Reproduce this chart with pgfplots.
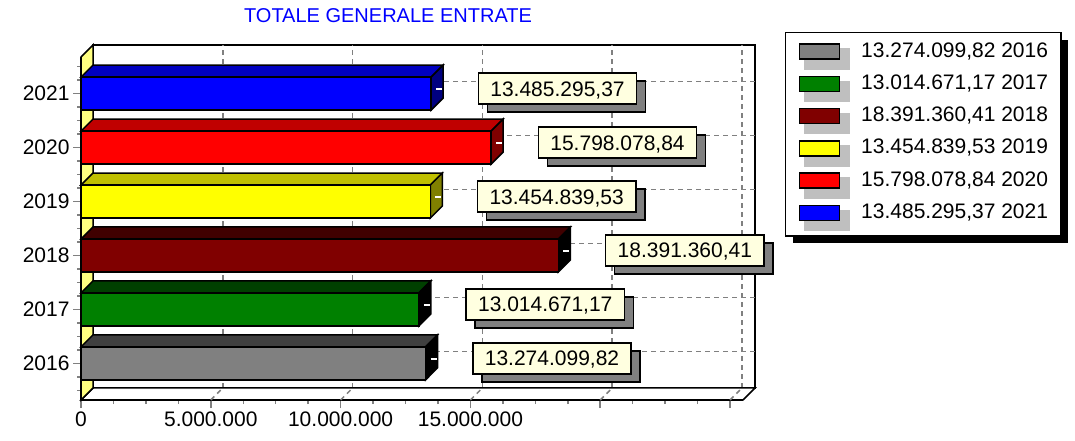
\documentclass[border=0pt]{standalone}
\usepackage{pgfplots}
\pgfplotsset{compat=1.18}
\usepackage{fontspec}
\setmainfont{Liberation Sans}
\usetikzlibrary{shadows}

\definecolor{wallyel}{HTML}{FFFF80}
\definecolor{lblyel}{HTML}{FFFFE0}
\definecolor{gridgray}{HTML}{808080}
\definecolor{fGray}{HTML}{808080}\definecolor{tGray}{HTML}{404040}
\definecolor{fGreen}{HTML}{008000}\definecolor{tGreen}{HTML}{004000}
\definecolor{fMaroon}{HTML}{800000}\definecolor{tMaroon}{HTML}{400000}
\definecolor{fYellow}{HTML}{FFFF00}\definecolor{tYellow}{HTML}{C0C000}\definecolor{sYellow}{HTML}{808000}
\definecolor{fRed}{HTML}{FF0000}\definecolor{tRed}{HTML}{C00000}\definecolor{sRed}{HTML}{800000}
\definecolor{fBlue}{HTML}{0000FF}\definecolor{tBlue}{HTML}{0000C0}\definecolor{sBlue}{HTML}{000080}

\newcommand{\bigfont}{\fontsize{21}{25}\selectfont}

% short white stroke on the side face of each bar
\pgfdeclareplotmark{stub}{%
  \pgfpathmoveto{\pgfpoint{5pt}{4.5pt}}%
  \pgfpathlineto{\pgfpoint{11pt}{4.5pt}}%
  \pgfusepathqstroke}

\makeatletter
\tikzset{nopre/.code={\let\tikz@preactions\pgfutil@empty}}
\makeatother

\tikzset{griddash/.style={gridgray, line width=1.5pt, dash pattern=on 5pt off 4pt}}
\pgfplotsset{
  front/.style={fill=#1, draw=black, line width=1.5pt,
    mark=stub, mark options={white, solid, line width=1.5pt},
    nodes near coords, point meta=explicit symbolic,
    every node near coord/.append style={
      anchor=west, xshift=46.5pt, yshift=5pt,
      draw=black, line width=1.5pt, fill=lblyel, text=black, font=\bigfont,
      text height=15pt, text depth=0pt, inner xsep=12pt, inner ysep=8pt,
      drop shadow={shadow xshift=9pt, shadow yshift=-8pt, fill=black!50, opacity=1}}},
  face/.style={sharp plot, draw=black, line width=1.5pt, fill=#1, forget plot, mark=none},
}

\begin{document}
\begin{tikzpicture}[x=1pt,y=1pt]
\useasboundingbox (0,0) rectangle (1075,441);
\begin{axis}[
  at={(81pt,41pt)}, anchor=south west,
  scale only axis, width=662pt, height=343pt,
  xmin=0, xmax=25.5e6, ymin=-0.68, ymax=5.68,
  clip=false,
  axis lines*=left,
  axis line style={black, line width=1.5pt},
  tick align=outside,
  xtick={0,5e6,10e6,15e6,20e6,25e6},
  xticklabels={0,5.000.000,10.000.000,15.000.000,{},{}},
  scaled x ticks=false,
  minor x tick num=3,
  ytick={0,1,2,3,4,5},
  yticklabels={2016,2017,2018,2019,2020,2021},
  minor ytick={-0.5,-0.25,0.25,0.5,0.75,1.25,1.5,1.75,2.25,2.5,2.75,3.25,3.5,3.75,4.25,4.5,4.75,5.25,5.5},
  major tick length=8pt, minor tick length=4pt,
  tick style={gridgray, line width=1.5pt},
  ticklabel style={font=\bigfont},
  xbar, bar width=0.612, bar shift=0pt,
  legend image code/.code={
    \fill[nopre,black!25] (5pt,-17.5pt) rectangle (50pt,2.5pt);
    \draw[nopre,#1,line width=1.5pt] (0pt,-7.5pt) rectangle (40pt,7.5pt);},
  legend cell align=left,
  legend style={at={(1.0634,1.0729)}, anchor=north west,
    draw=black, line width=1.5pt, fill=white,
    drop shadow={shadow xshift=7pt, shadow yshift=-7pt, fill=black, opacity=1},
    font=\bigfont, inner xsep=13pt, inner ysep=5pt, row sep=0pt,
    nodes={text height=15pt, text depth=4pt, inner ysep=4.5pt, inner xsep=0pt},
    /tikz/every odd column/.append style={column sep=11pt}},
]
% back wall
\draw[line width=1.5pt, fill=white] ([shift={(12pt,12pt)}]rel axis cs:0,0) rectangle ([shift={(12pt,12pt)}]rel axis cs:1,1);
\draw[griddash] ([shift={(12pt,12pt)}]axis cs:5e6,-0.68) -- ([shift={(12pt,12pt)}]axis cs:5e6,5.68);
\draw[griddash] ([shift={(12pt,12pt)}]axis cs:10e6,-0.68) -- ([shift={(12pt,12pt)}]axis cs:10e6,5.68);
\draw[griddash] ([shift={(12pt,12pt)}]axis cs:15e6,-0.68) -- ([shift={(12pt,12pt)}]axis cs:15e6,5.68);
\draw[griddash] ([shift={(12pt,12pt)}]axis cs:20e6,-0.68) -- ([shift={(12pt,12pt)}]axis cs:20e6,5.68);
\draw[griddash] ([shift={(12pt,12pt)}]axis cs:25e6,-0.68) -- ([shift={(12pt,12pt)}]axis cs:25e6,5.68);
\draw[griddash] ([shift={(12pt,12pt)}]axis cs:0,0) -- ([shift={(12pt,12pt)}]axis cs:25.5e6,0);
\draw[griddash] ([shift={(12pt,12pt)}]axis cs:0,1) -- ([shift={(12pt,12pt)}]axis cs:25.5e6,1);
\draw[griddash] ([shift={(12pt,12pt)}]axis cs:0,2) -- ([shift={(12pt,12pt)}]axis cs:25.5e6,2);
\draw[griddash] ([shift={(12pt,12pt)}]axis cs:0,3) -- ([shift={(12pt,12pt)}]axis cs:25.5e6,3);
\draw[griddash] ([shift={(12pt,12pt)}]axis cs:0,4) -- ([shift={(12pt,12pt)}]axis cs:25.5e6,4);
\draw[griddash] ([shift={(12pt,12pt)}]axis cs:0,5) -- ([shift={(12pt,12pt)}]axis cs:25.5e6,5);
% floor
\draw[line width=1.5pt, fill=white] (rel axis cs:0,0) -- (rel axis cs:1,0) -- ++(12pt,12pt) -- ([shift={(12pt,12pt)}]rel axis cs:0,0) -- cycle;
\draw[griddash] (axis cs:5e6,-0.68) -- ++(12pt,12pt);
\draw[griddash] (axis cs:10e6,-0.68) -- ++(12pt,12pt);
\draw[griddash] (axis cs:15e6,-0.68) -- ++(12pt,12pt);
\draw[griddash] (axis cs:20e6,-0.68) -- ++(12pt,12pt);
\draw[griddash] (axis cs:25e6,-0.68) -- ++(12pt,12pt);
% left wall
\draw[line width=1.5pt, fill=wallyel] (rel axis cs:0,0) -- ([shift={(12pt,12pt)}]rel axis cs:0,0) -- ([shift={(12pt,12pt)}]rel axis cs:0,1) -- (rel axis cs:0,1) -- cycle;

% 2016
\addplot[face=tGray] coordinates {(0,0.306) (13274099.82,0.306) (13736335.82,0.5286) (462236,0.5286)} -- cycle;
\addplot[face=black] coordinates {(13274099.82,-0.306) (13736335.82,-0.0834) (13736335.82,0.5286) (13274099.82,0.306)} -- cycle;
\addplot[front=fGray] coordinates {(13274099.82,0) [13.274.099,82]};
\addlegendentry{13.274.099,82 2016}
% 2017
\addplot[face=tGreen] coordinates {(0,1.306) (13014671.17,1.306) (13476907.17,1.5286) (462236,1.5286)} -- cycle;
\addplot[face=black] coordinates {(13014671.17,0.694) (13476907.17,0.9166) (13476907.17,1.5286) (13014671.17,1.306)} -- cycle;
\addplot[front=fGreen] coordinates {(13014671.17,1) [13.014.671,17]};
\addlegendentry{13.014.671,17 2017}
% 2018
\addplot[face=tMaroon] coordinates {(0,2.306) (18391360.41,2.306) (18853596.41,2.5286) (462236,2.5286)} -- cycle;
\addplot[face=black] coordinates {(18391360.41,1.694) (18853596.41,1.9166) (18853596.41,2.5286) (18391360.41,2.306)} -- cycle;
\addplot[front=fMaroon] coordinates {(18391360.41,2) [18.391.360,41]};
\addlegendentry{18.391.360,41 2018}
% 2019
\addplot[face=tYellow] coordinates {(0,3.306) (13454839.53,3.306) (13917075.53,3.5286) (462236,3.5286)} -- cycle;
\addplot[face=sYellow] coordinates {(13454839.53,2.694) (13917075.53,2.9166) (13917075.53,3.5286) (13454839.53,3.306)} -- cycle;
\addplot[front=fYellow] coordinates {(13454839.53,3) [13.454.839,53]};
\addlegendentry{13.454.839,53 2019}
% 2020
\addplot[face=tRed] coordinates {(0,4.306) (15798078.84,4.306) (16260314.84,4.5286) (462236,4.5286)} -- cycle;
\addplot[face=sRed] coordinates {(15798078.84,3.694) (16260314.84,3.9166) (16260314.84,4.5286) (15798078.84,4.306)} -- cycle;
\addplot[front=fRed] coordinates {(15798078.84,4) [15.798.078,84]};
\addlegendentry{15.798.078,84 2020}
% 2021
\addplot[face=tBlue] coordinates {(0,5.306) (13485295.37,5.306) (13947531.37,5.5286) (462236,5.5286)} -- cycle;
\addplot[face=sBlue] coordinates {(13485295.37,4.694) (13947531.37,4.9166) (13947531.37,5.5286) (13485295.37,5.306)} -- cycle;
\addplot[front=fBlue] coordinates {(13485295.37,5) [13.485.295,37]};
\addlegendentry{13.485.295,37 2021}
\end{axis}
\node[font=\fontsize{20}{24}\selectfont, text=blue] at (388,425) {TOTALE GENERALE ENTRATE};
\end{tikzpicture}
\end{document}
